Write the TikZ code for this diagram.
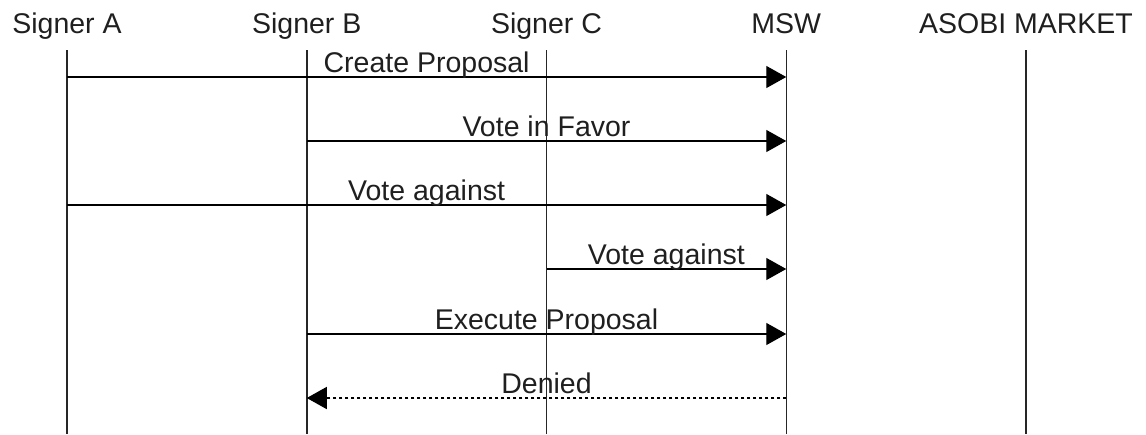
\documentclass[tikz,border=0pt]{standalone}
\usepackage{fontspec}
\setmainfont{Liberation Sans}
\usetikzlibrary{arrows.meta,calc}
\begin{document}
\begin{tikzpicture}[x=1pt,y=-1pt,
  every node/.style={font=\fontsize{28.5}{34}\selectfont, text=black!88, inner sep=0pt},
  header/.style={anchor=base},
  msglabel/.style={anchor=base, yshift=4.5pt},
  lifeline/.style={line width=1.5pt, black!85},
  msg/.style={line width=1.4pt, -{Triangle[length=20pt,width=22pt]}},
  reply/.style={msg, dash pattern=on 3.5pt off 2.5pt}]
\useasboundingbox (0,0) rectangle (1146,434);

% participants
\node[header] (hA) at (67,33) {Signer A};
\node[header] (hB) at (306.75,33) {Signer B};
\node[header] (hC) at (546.5,33) {Signer C};
\node[header] (hM) at (786.25,33) {MSW};
\node[header] (hS) at (1026,33) {ASOBI MARKET};

% lifelines
\foreach \n/\x in {A/67,B/306.75,C/546.5,M/786.25,S/1026}{
  \coordinate (t\n) at (\x,50);
  \coordinate (b\n) at (\x,434);
  \draw[lifeline] (t\n) -- (b\n);
}

% message end points on the lifelines
\coordinate (m1s) at (tA |- 0,77);   \coordinate (m1e) at (tM |- 0,77);
\coordinate (m2s) at (tB |- 0,141);  \coordinate (m2e) at (tM |- 0,141);
\coordinate (m3s) at (tA |- 0,205);  \coordinate (m3e) at (tM |- 0,205);
\coordinate (m4s) at (tC |- 0,269);  \coordinate (m4e) at (tM |- 0,269);
\coordinate (m5s) at (tB |- 0,334);  \coordinate (m5e) at (tM |- 0,334);
\coordinate (m6s) at (tM |- 0,398);  \coordinate (m6e) at (tB |- 0,398);

% messages
\draw[msg] (m1s) -- (m1e);
\draw[msg] (m2s) -- (m2e);
\draw[msg] (m3s) -- (m3e);
\draw[msg] (m4s) -- (m4e);
\draw[msg] (m5s) -- (m5e);
\draw[reply] (m6s) -- (m6e);

% message labels
\node[msglabel] (l1) at ($(m1s)!0.5!(m1e)$) {Create Proposal};
\node[msglabel] (l2) at ($(m2s)!0.5!(m2e)$) {Vote in Favor};
\node[msglabel] (l3) at ($(m3s)!0.5!(m3e)$) {Vote against};
\node[msglabel] (l4) at ($(m4s)!0.5!(m4e)$) {Vote against};
\node[msglabel] (l5) at ($(m5s)!0.5!(m5e)$) {Execute Proposal};
\node[msglabel] (l6) at ($(m6s)!0.5!(m6e)$) {Denied};
\end{tikzpicture}
\end{document}
